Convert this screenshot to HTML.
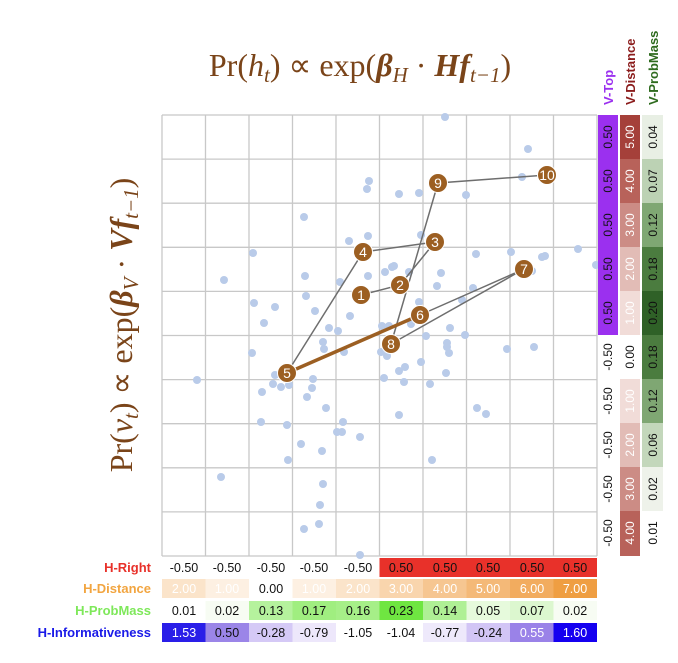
<!DOCTYPE html>
<html><head><meta charset="utf-8"><style>
html,body{margin:0;padding:0;background:#fff;width:678px;height:663px;overflow:hidden}
svg{display:block}
.c{font-family:"Liberation Sans",sans-serif;font-size:12px}
</style></head><body>
<svg width="678" height="663" viewBox="0 0 678 663" xmlns="http://www.w3.org/2000/svg">
<rect width="678" height="663" fill="#fff"/>
<!-- title -->
<text x="360" y="76" text-anchor="middle" font-family="Liberation Serif,serif" font-size="32" fill="#7a4419">Pr(<tspan font-style="italic">h</tspan><tspan font-style="italic" font-size="21" dy="6">t</tspan><tspan dy="-6">)  ∝ exp(</tspan><tspan font-weight="bold" font-style="italic">β</tspan><tspan font-style="italic" font-size="21" dy="6">H</tspan><tspan dy="-6"> · </tspan><tspan font-weight="bold" font-style="italic">Hf</tspan><tspan font-style="italic" font-size="21" dy="6">t−1</tspan><tspan dy="-6">)</tspan></text>
<!-- y label -->
<text transform="translate(132,325) rotate(-90)" text-anchor="middle" font-family="Liberation Serif,serif" font-size="32" fill="#7a4419">Pr(<tspan font-style="italic">v</tspan><tspan font-style="italic" font-size="21" dy="6">t</tspan><tspan dy="-6">)  ∝ exp(</tspan><tspan font-weight="bold" font-style="italic">β</tspan><tspan font-style="italic" font-size="21" dy="6">V</tspan><tspan dy="-6"> · </tspan><tspan font-weight="bold" font-style="italic">Vf</tspan><tspan font-style="italic" font-size="21" dy="6">t−1</tspan><tspan dy="-6">)</tspan></text>
<!-- grid -->
<g stroke="#c8c8c8" stroke-width="1.3">
<line x1="162" y1="115" x2="162" y2="556"/><line x1="205.5" y1="115" x2="205.5" y2="556"/><line x1="249" y1="115" x2="249" y2="556"/><line x1="292.5" y1="115" x2="292.5" y2="556"/><line x1="336" y1="115" x2="336" y2="556"/><line x1="379.5" y1="115" x2="379.5" y2="556"/><line x1="423" y1="115" x2="423" y2="556"/><line x1="466.5" y1="115" x2="466.5" y2="556"/><line x1="510" y1="115" x2="510" y2="556"/><line x1="553.5" y1="115" x2="553.5" y2="556"/><line x1="597" y1="115" x2="597" y2="556"/>
<line x1="162" y1="115" x2="597" y2="115"/><line x1="162" y1="159.1" x2="597" y2="159.1"/><line x1="162" y1="203.2" x2="597" y2="203.2"/><line x1="162" y1="247.3" x2="597" y2="247.3"/><line x1="162" y1="291.4" x2="597" y2="291.4"/><line x1="162" y1="335.5" x2="597" y2="335.5"/><line x1="162" y1="379.6" x2="597" y2="379.6"/><line x1="162" y1="423.7" x2="597" y2="423.7"/><line x1="162" y1="467.8" x2="597" y2="467.8"/><line x1="162" y1="511.9" x2="597" y2="511.9"/><line x1="162" y1="556" x2="597" y2="556"/>
</g>
<!-- dots -->
<g fill="#b9cbe9">
<circle cx="445" cy="117" r="4"/><circle cx="528" cy="149" r="4"/><circle cx="522" cy="177" r="4"/><circle cx="369" cy="181" r="4"/><circle cx="367" cy="189" r="4"/><circle cx="399" cy="194" r="4"/><circle cx="419" cy="193" r="4"/><circle cx="466" cy="195" r="4"/><circle cx="304" cy="217" r="4"/><circle cx="349" cy="241" r="4"/><circle cx="368" cy="236" r="4"/><circle cx="421" cy="235" r="4"/><circle cx="253" cy="253" r="4"/><circle cx="476" cy="254" r="4"/><circle cx="511" cy="252" r="4"/><circle cx="545" cy="256" r="4"/><circle cx="542" cy="257" r="4"/><circle cx="578" cy="249" r="4"/><circle cx="596" cy="265" r="4"/><circle cx="224" cy="280" r="4"/><circle cx="305" cy="276" r="4"/><circle cx="340" cy="282" r="4"/><circle cx="368" cy="276" r="4"/><circle cx="385" cy="272" r="4"/><circle cx="392" cy="267" r="4"/><circle cx="394" cy="266" r="4"/><circle cx="409" cy="272" r="4"/><circle cx="441" cy="273" r="4"/><circle cx="532" cy="271" r="4"/><circle cx="437" cy="286" r="4"/><circle cx="306" cy="296" r="4"/><circle cx="473" cy="288" r="4"/><circle cx="462" cy="300" r="4"/><circle cx="254" cy="303" r="4"/><circle cx="275" cy="307" r="4"/><circle cx="315" cy="311" r="4"/><circle cx="419" cy="302" r="4"/><circle cx="350" cy="316" r="4"/><circle cx="264" cy="323" r="4"/><circle cx="329" cy="328" r="4"/><circle cx="338" cy="331" r="4"/><circle cx="382" cy="326" r="4"/><circle cx="389" cy="326" r="4"/><circle cx="411" cy="324" r="4"/><circle cx="450" cy="328" r="4"/><circle cx="465" cy="335" r="4"/><circle cx="426" cy="336" r="4"/><circle cx="323" cy="342" r="4"/><circle cx="324" cy="349" r="4"/><circle cx="344" cy="352" r="4"/><circle cx="381" cy="352" r="4"/><circle cx="387" cy="356" r="4"/><circle cx="447" cy="343" r="4"/><circle cx="447" cy="347" r="4"/><circle cx="449" cy="353" r="4"/><circle cx="507" cy="349" r="4"/><circle cx="534" cy="347" r="4"/><circle cx="252" cy="353" r="4"/><circle cx="421" cy="362" r="4"/><circle cx="399" cy="371" r="4"/><circle cx="405" cy="367" r="4"/><circle cx="275" cy="375" r="4"/><circle cx="197" cy="380" r="4"/><circle cx="313" cy="379" r="4"/><circle cx="384" cy="378" r="4"/><circle cx="404" cy="382" r="4"/><circle cx="430" cy="384" r="4"/><circle cx="446" cy="373" r="4"/><circle cx="273" cy="384" r="4"/><circle cx="281" cy="387" r="4"/><circle cx="289" cy="385" r="4"/><circle cx="312" cy="388" r="4"/><circle cx="262" cy="392" r="4"/><circle cx="307" cy="397" r="4"/><circle cx="326" cy="408" r="4"/><circle cx="399" cy="415" r="4"/><circle cx="477" cy="408" r="4"/><circle cx="486" cy="414" r="4"/><circle cx="261" cy="422" r="4"/><circle cx="287" cy="425" r="4"/><circle cx="343" cy="422" r="4"/><circle cx="337" cy="432" r="4"/><circle cx="342" cy="432" r="4"/><circle cx="360" cy="437" r="4"/><circle cx="301" cy="444" r="4"/><circle cx="322" cy="451" r="4"/><circle cx="288" cy="460" r="4"/><circle cx="432" cy="460" r="4"/><circle cx="221" cy="477" r="4"/><circle cx="323" cy="484" r="4"/><circle cx="320" cy="505" r="4"/><circle cx="319" cy="524" r="4"/><circle cx="304" cy="529" r="4"/><circle cx="360" cy="555" r="4"/>
</g>
<!-- path -->
<g stroke="#6e6e6e" stroke-width="1.5" fill="none">
<polyline points="361,295 400,285 435,242 363,252 287,373"/>
<polyline points="420,315 524,269 391,344 438,183 547,175"/>
</g>
<line x1="287" y1="373" x2="420" y2="315" stroke="#9c5f22" stroke-width="3.5"/>
<g fill="#9c5f22" stroke="#fff" stroke-width="1">
<circle cx="361" cy="295" r="9.5"/><circle cx="400" cy="285" r="9.5"/><circle cx="435" cy="242" r="9.5"/><circle cx="363" cy="252" r="9.5"/><circle cx="287" cy="373" r="9.5"/><circle cx="420" cy="315" r="9.5"/><circle cx="524" cy="269" r="9.5"/><circle cx="391" cy="344" r="9.5"/><circle cx="438" cy="183" r="9.5"/><circle cx="547" cy="175" r="9.5"/>
</g>
<g fill="#fff" font-family="Liberation Sans,sans-serif" font-size="14" text-anchor="middle">
<text x="361" y="300">1</text><text x="400" y="290">2</text><text x="435" y="247">3</text><text x="363" y="257">4</text><text x="287" y="378">5</text><text x="420" y="320">6</text><text x="524" y="274">7</text><text x="391" y="349">8</text><text x="438" y="188">9</text><text x="547" y="180">10</text>
</g>

<!-- right columns -->
<g class="c">
<rect x="598" y="115" width="20" height="220" fill="#9b30ef"/>
<rect x="620" y="115" width="20" height="44" fill="#a5403a"/><rect x="620" y="159" width="20" height="44" fill="#b8625a"/><rect x="620" y="203" width="20" height="44" fill="#cc8c85"/><rect x="620" y="247" width="20" height="44" fill="#e2bcb6"/><rect x="620" y="291" width="20" height="44" fill="#f1dcd8"/>
<rect x="620" y="379" width="20" height="44" fill="#f1dcd8"/><rect x="620" y="423" width="20" height="44" fill="#e2bcb6"/><rect x="620" y="467" width="20" height="44" fill="#cc8c85"/><rect x="620" y="511" width="20" height="45" fill="#b8625a"/>
<rect x="642" y="115" width="21" height="44" fill="#e8efe4"/><rect x="642" y="159" width="21" height="44" fill="#bcd2b4"/><rect x="642" y="203" width="21" height="44" fill="#7fa773"/><rect x="642" y="247" width="21" height="44" fill="#4b7c3f"/><rect x="642" y="291" width="21" height="44" fill="#2f6127"/><rect x="642" y="335" width="21" height="44" fill="#4b7c3f"/><rect x="642" y="379" width="21" height="44" fill="#7fa773"/><rect x="642" y="423" width="21" height="44" fill="#c3d7bb"/><rect x="642" y="467" width="21" height="44" fill="#eef2ea"/>
</g>
<g font-family="Liberation Sans,sans-serif" font-size="12" text-anchor="middle">
<g fill="#111">
<text transform="translate(612,137) rotate(-90)">0.50</text><text transform="translate(612,181) rotate(-90)">0.50</text><text transform="translate(612,225) rotate(-90)">0.50</text><text transform="translate(612,269) rotate(-90)">0.50</text><text transform="translate(612,313) rotate(-90)">0.50</text><text transform="translate(612,357) rotate(-90)">-0.50</text><text transform="translate(612,401) rotate(-90)">-0.50</text><text transform="translate(612,445) rotate(-90)">-0.50</text><text transform="translate(612,489) rotate(-90)">-0.50</text><text transform="translate(612,533) rotate(-90)">-0.50</text>
<text transform="translate(634,357) rotate(-90)">0.00</text>
<text transform="translate(657,137) rotate(-90)">0.04</text><text transform="translate(657,181) rotate(-90)">0.07</text><text transform="translate(657,225) rotate(-90)">0.12</text><text transform="translate(657,445) rotate(-90)">0.06</text><text transform="translate(657,489) rotate(-90)">0.02</text><text transform="translate(657,533) rotate(-90)">0.01</text>
</g>
<g fill="#fff">
<text transform="translate(634,137) rotate(-90)">5.00</text><text transform="translate(634,181) rotate(-90)">4.00</text><text transform="translate(634,225) rotate(-90)">3.00</text><text transform="translate(634,269) rotate(-90)">2.00</text><text transform="translate(634,313) rotate(-90)">1.00</text><text transform="translate(634,401) rotate(-90)">1.00</text><text transform="translate(634,445) rotate(-90)">2.00</text><text transform="translate(634,489) rotate(-90)">3.00</text><text transform="translate(634,533) rotate(-90)">4.00</text>
</g>
<g fill="#111">
<text transform="translate(657,269) rotate(-90)">0.18</text><text transform="translate(657,313) rotate(-90)">0.20</text><text transform="translate(657,357) rotate(-90)">0.18</text><text transform="translate(657,401) rotate(-90)">0.12</text>
</g>
</g>
<g font-family="Liberation Sans,sans-serif" font-size="13" font-weight="bold">
<text transform="translate(613,105) rotate(-90)" fill="#9b30ef">V-Top</text>
<text transform="translate(635,105) rotate(-90)" fill="#8b1c1c">V-Distance</text>
<text transform="translate(658,105) rotate(-90)" fill="#2e6b1e">V-ProbMass</text>
</g>

<!-- bottom rows -->
<g>
<rect x="379.5" y="558" width="217.5" height="19" fill="#e8312a"/>
<rect x="162" y="579" width="43.5" height="19" fill="#fbe4ca"/><rect x="205.5" y="579" width="43.5" height="19" fill="#fdf0e2"/><rect x="292.5" y="579" width="43.5" height="19" fill="#fdf0e2"/><rect x="336" y="579" width="43.5" height="19" fill="#fbe4ca"/><rect x="379.5" y="579" width="43.5" height="19" fill="#f9d5ad"/><rect x="423" y="579" width="43.5" height="19" fill="#f6c691"/><rect x="466.5" y="579" width="43.5" height="19" fill="#f4b978"/><rect x="510" y="579" width="43.5" height="19" fill="#f2ac5f"/><rect x="553.5" y="579" width="43.5" height="19" fill="#ef9e42"/>
<rect x="205.5" y="601" width="43.5" height="19" fill="#f7fcf3"/><rect x="249" y="601" width="43.5" height="19" fill="#b5f29d"/><rect x="292.5" y="601" width="43.5" height="19" fill="#a0ee80"/><rect x="336" y="601" width="43.5" height="19" fill="#a6ef88"/><rect x="379.5" y="601" width="43.5" height="19" fill="#6fe641"/><rect x="423" y="601" width="43.5" height="19" fill="#aff095"/><rect x="466.5" y="601" width="43.5" height="19" fill="#e6fadc"/><rect x="510" y="601" width="43.5" height="19" fill="#dcf7cf"/><rect x="553.5" y="601" width="43.5" height="19" fill="#f7fcf3"/>
<rect x="162" y="623" width="43.5" height="19" fill="#2a1ee8"/><rect x="205.5" y="623" width="43.5" height="19" fill="#9b85e8"/><rect x="249" y="623" width="43.5" height="19" fill="#d5c9f6"/><rect x="292.5" y="623" width="43.5" height="19" fill="#ede7fb"/><rect x="423" y="623" width="43.5" height="19" fill="#eee9fb"/><rect x="466.5" y="623" width="43.5" height="19" fill="#d2c5f5"/><rect x="510" y="623" width="43.5" height="19" fill="#9a82e8"/><rect x="553.5" y="623" width="43.5" height="19" fill="#1500f0"/>
</g>
<g font-family="Liberation Sans,sans-serif" font-size="12.5" text-anchor="middle" fill="#111">
<text x="184" y="572">-0.50</text><text x="227" y="572">-0.50</text><text x="271" y="572">-0.50</text><text x="314" y="572">-0.50</text><text x="358" y="572">-0.50</text><text x="401" y="572">0.50</text><text x="445" y="572">0.50</text><text x="488" y="572">0.50</text><text x="532" y="572">0.50</text><text x="575" y="572">0.50</text>
<g fill="#fff"><text x="184" y="593">2.00</text><text x="227" y="593">1.00</text><text x="314" y="593">1.00</text><text x="358" y="593">2.00</text><text x="401" y="593">3.00</text><text x="445" y="593">4.00</text><text x="488" y="593">5.00</text><text x="532" y="593">6.00</text><text x="575" y="593">7.00</text></g>
<text x="271" y="593">0.00</text>
<text x="184" y="615">0.01</text><text x="227" y="615">0.02</text><text x="271" y="615">0.13</text><text x="314" y="615">0.17</text><text x="358" y="615">0.16</text><text x="401" y="615">0.23</text><text x="445" y="615">0.14</text><text x="488" y="615">0.05</text><text x="532" y="615">0.07</text><text x="575" y="615">0.02</text>
<text x="184" y="637" fill="#fff">1.53</text><text x="227" y="637">0.50</text><text x="271" y="637">-0.28</text><text x="314" y="637">-0.79</text><text x="358" y="637">-1.05</text><text x="401" y="637">-1.04</text><text x="445" y="637">-0.77</text><text x="488" y="637">-0.24</text><text x="532" y="637" fill="#fff">0.55</text><text x="575" y="637" fill="#fff">1.60</text>
</g>
<g font-family="Liberation Sans,sans-serif" font-size="13" font-weight="bold" text-anchor="end">
<text x="151" y="572" fill="#e8312a">H-Right</text>
<text x="151" y="593" fill="#f2a540">H-Distance</text>
<text x="151" y="615" fill="#7ee85a">H-ProbMass</text>
<text x="151" y="637" fill="#1a1ae8">H-Informativeness</text>
</g>
</svg>
</body></html>
